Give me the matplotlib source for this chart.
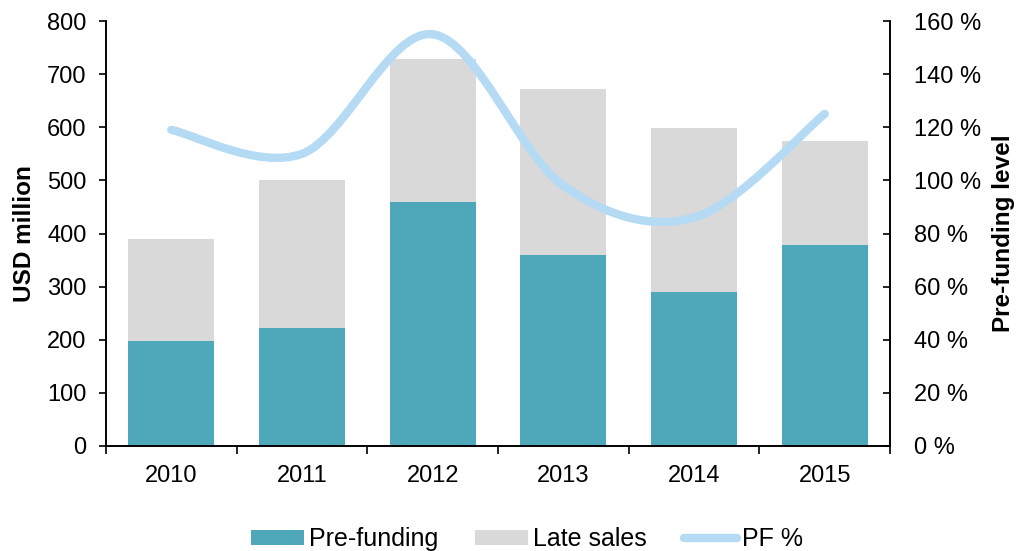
import numpy as np
import matplotlib
matplotlib.use("Agg")
import matplotlib.pyplot as plt
from matplotlib.path import Path
from matplotlib.patches import PathPatch, Patch
from matplotlib.lines import Line2D

plt.rcParams['font.family'] = ['Liberation Sans', 'DejaVu Sans']

years = ['2010', '2011', '2012', '2013', '2014', '2015']
pre_funding = [197, 223, 460, 360, 289, 379]
late_sales = [193, 277, 268, 312, 310, 196]
pf_pct = [119, 110, 155, 98, 86, 125]

teal = '#4FA7BA'
grey = '#D9D9D9'
line_col = '#B4DAF4'

fig = plt.figure(figsize=(10.17, 5.51), dpi=100)
ax1 = fig.add_axes([106 / 1017, 105 / 551, 784 / 1017, 425 / 551])
ax2 = ax1.twinx()

x = np.arange(len(years))
width = 0.66
ax1.bar(x, pre_funding, width=width, color=teal, zorder=2)
ax1.bar(x, late_sales, width=width, bottom=pre_funding, color=grey, zorder=2)

ax1.set_xlim(-0.5, len(years) - 0.5)
ax1.set_ylim(0, 800)
ax1.set_yticks(range(0, 801, 100))
ax2.set_ylim(0, 160)
ax2.set_yticks(range(0, 161, 20))
ax2.set_yticklabels([f'{v} %' for v in range(0, 161, 20)])

# smoothed line (Excel style bezier through the points)
pts = np.column_stack([x, pf_pct]).astype(float)
n = len(pts)
verts = [pts[0]]
codes = [Path.MOVETO]
for i in range(n - 1):
    p0 = pts[i - 1] if i > 0 else pts[i]
    p1 = pts[i]
    p2 = pts[i + 1]
    p3 = pts[i + 2] if i + 2 < n else pts[i + 1]
    c1 = p1 + (p2 - p0) / 6
    c2 = p2 - (p3 - p1) / 6
    verts += [c1, c2, p2]
    codes += [Path.CURVE4] * 3
patch = PathPatch(Path(verts, codes), facecolor='none', edgecolor=line_col,
                  lw=6, capstyle='round', joinstyle='round', zorder=3)
ax2.add_patch(patch)

# ticks and spines
ax1.set_xticks(x)
ax1.set_xticklabels(years)
ax1.set_xticks(np.arange(-0.5, len(years)), minor=True)
ax1.tick_params(axis='x', which='major', length=0, pad=14, labelsize=17)
ax1.tick_params(axis='x', which='minor', length=6, width=1.2, direction='out')
ax1.tick_params(axis='y', length=5, width=1.2, direction='out', labelsize=17, pad=9)
ax2.tick_params(axis='y', length=5, width=1.2, direction='in', labelsize=17, pad=17)

for ax in (ax1, ax2):
    ax.spines['top'].set_visible(False)
    for s in ('left', 'right', 'bottom'):
        ax.spines[s].set_linewidth(1.2)

ax1.set_ylabel('USD million', fontsize=17.5, fontweight='bold', labelpad=8)
ax2.set_ylabel('Pre-funding level', fontsize=17.5, fontweight='bold', labelpad=8)

handles = [Patch(facecolor=teal, edgecolor='none'),
           Patch(facecolor=grey, edgecolor='none'),
           Line2D([0], [0], color=line_col, lw=6, solid_capstyle='round')]
fig.legend(handles, ['Pre-funding', 'Late sales', 'PF %'], loc='center',
           bbox_to_anchor=(0.518, 0.022), ncol=3, frameon=False, fontsize=18,
           handlelength=2.1, handleheight=0.55, handletextpad=0.2,
           columnspacing=1.5)

fig.savefig('out.png', dpi=100)
